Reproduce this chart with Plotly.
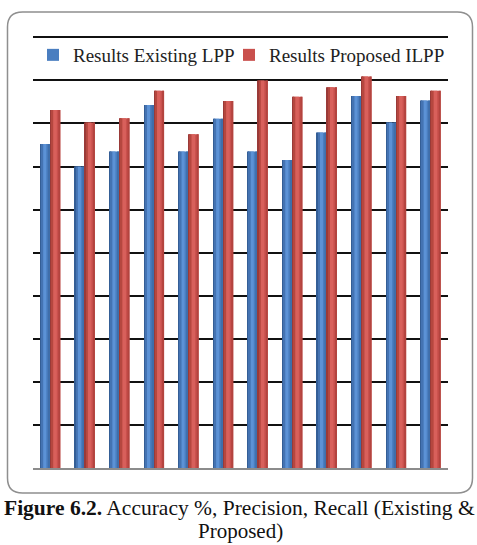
import plotly.graph_objects as go

categories = list(range(1, 13))
existing = [75.2, 70.0, 73.5, 84.3, 73.5, 81.1, 73.5, 71.5, 77.9, 86.4, 80.2, 85.3]
proposed = [83.1, 80.2, 81.2, 87.6, 77.5, 85.2, 90.0, 86.2, 88.4, 90.9, 86.4, 87.6]
series_names = ["Results Existing LPP", "Results Proposed ILPP"]
grid_vals = [10, 20, 30, 40, 50, 60, 70, 80, 90, 100]

W, H = 477, 545
L, R, T, B = 33, 448, 33, 468
pw, ph = R - L, B - T

xpos = [c - 1 for c in categories]
bw = 0.29  # bar width in category units

fig = go.Figure()

def add_series(vals, name, base_off, shades, legend_id):
    first = True
    for s, e, col in shades:
        fig.add_trace(go.Bar(
            x=xpos, y=vals, name=name,
            offset=base_off + s * bw, width=(e - s) * bw,
            marker=dict(color=col, line=dict(width=0)),
            showlegend=first, legendgroup=name, legend=legend_id,
            hoverinfo="skip",
        ))
        first = False

blue_shades = [(0.0, 1.0, "#4A7EC0"), (0.0, 0.12, "#345E96"), (0.12, 0.3, "#4473B2"),
               (0.3, 0.6, "#5C92D6"), (0.75, 1.0, "#3F6EAA")]
red_shades = [(0.0, 1.0, "#C9504D"), (0.0, 0.12, "#9A3A38"), (0.12, 0.3, "#B5473F"),
              (0.3, 0.65, "#D8605B"), (0.8, 1.0, "#B3443F")]

add_series(existing, series_names[0], -bw, blue_shades, "legend")
add_series(proposed, series_names[1], 0.0, red_shades, "legend2")

def px2x(px):
    return (px - L) / pw

def py2y(py):
    return (B - py) / ph

x0, x1, y0, y1 = 7.5, 472.5, 12, 493
r = 15
def P(px, py):
    return f"{px2x(px):.5f},{py2y(py):.5f}"
path = (f"M {P(x0 + r, y0)} L {P(x1 - r, y0)} Q {P(x1, y0)} {P(x1, y0 + r)} "
        f"L {P(x1, y1 - r)} Q {P(x1, y1)} {P(x1 - r, y1)} "
        f"L {P(x0 + r, y1)} Q {P(x0, y1)} {P(x0, y1 - r)} "
        f"L {P(x0, y0 + r)} Q {P(x0, y0)} {P(x0 + r, y0)} Z")

leg_common = dict(orientation="h", xanchor="left", yanchor="middle",
                  bgcolor="rgba(0,0,0,0)",
                  font=dict(family="Liberation Serif", size=19, color="#222"),
                  itemwidth=30, tracegroupgap=0)

fig.update_layout(
    width=W, height=H,
    margin=dict(l=L, r=W - R, t=T, b=H - B, pad=0),
    paper_bgcolor="white", plot_bgcolor="white",
    barmode="overlay",
    showlegend=True,
    legend=dict(x=px2x(33), y=py2y(55), **leg_common),
    legend2=dict(x=px2x(229), y=py2y(55), **leg_common),
    xaxis=dict(range=[-0.5, 11.5], showticklabels=False, showgrid=False, zeroline=False,
               showline=True, linecolor="#8c8c8c", linewidth=1.5, ticks=""),
    yaxis=dict(range=[0, 101], tickvals=grid_vals, showticklabels=False, showgrid=True,
               gridcolor="#111", gridwidth=1.5, zeroline=False, showline=False, ticks=""),
    shapes=[dict(type="path", xref="paper", yref="paper", path=path,
                 line=dict(color="#8f8f8f", width=1.5), fillcolor="rgba(0,0,0,0)", layer="below")],
    annotations=[
        dict(text="<b>Figure 6.2.</b> Accuracy %, Precision, Recall (Existing &",
             xref="paper", yref="paper", x=px2x(239), y=py2y(508), xanchor="center", yanchor="middle",
             showarrow=False, font=dict(family="Liberation Serif", size=21.5, color="#111")),
        dict(text="Proposed)",
             xref="paper", yref="paper", x=px2x(240), y=py2y(531), xanchor="center", yanchor="middle",
             showarrow=False, font=dict(family="Liberation Serif", size=21, color="#111")),
    ],
)

fig.write_html("out.html")
